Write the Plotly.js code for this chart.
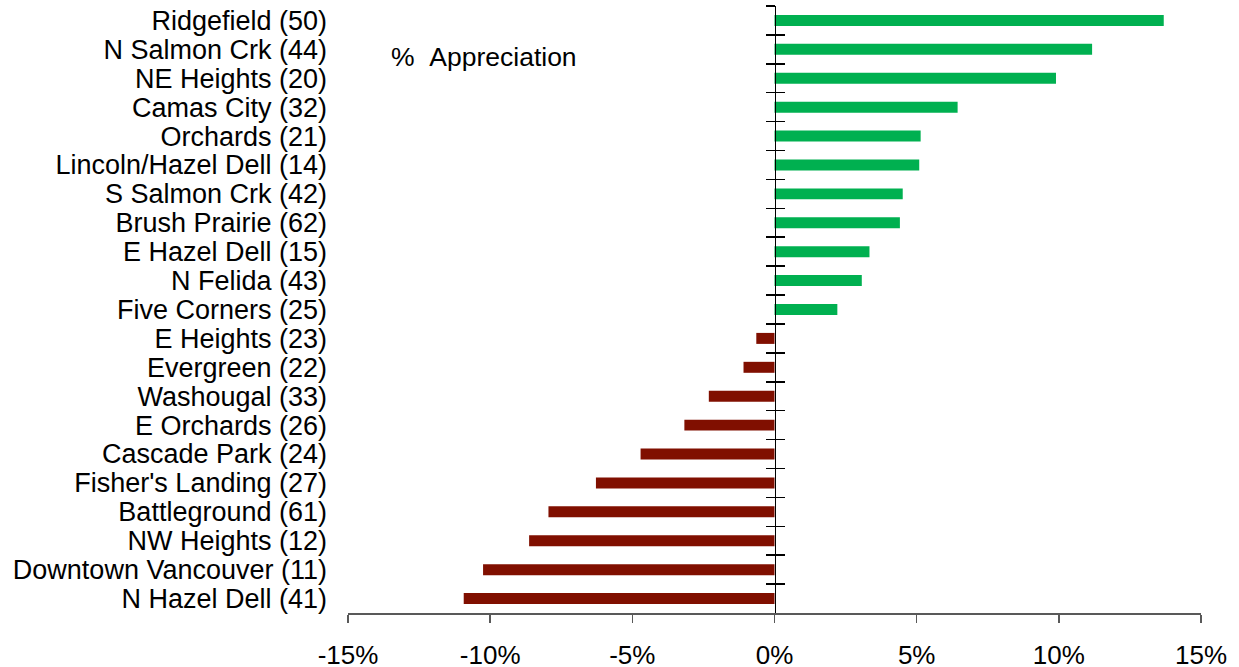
<!DOCTYPE html>
<html>
<head>
<meta charset="utf-8">
<script src="https://cdn.plot.ly/plotly-3.0.1.min.js"></script>
<style>html,body{margin:0;padding:0;background:#fff;}#chart{width:1239px;height:667px;}</style>
</head>
<body>
<div id="chart"></div>
<script>
// Categories, top to bottom
const categories = [
  "Ridgefield (50)", "N Salmon Crk (44)", "NE Heights (20)", "Camas City (32)",
  "Orchards (21)", "Lincoln/Hazel Dell (14)", "S Salmon Crk (42)", "Brush Prairie (62)",
  "E Hazel Dell (15)", "N Felida (43)", "Five Corners (25)", "E Heights (23)",
  "Evergreen (22)", "Washougal (33)", "E Orchards (26)", "Cascade Park (24)",
  "Fisher's Landing (27)", "Battleground (61)", "NW Heights (12)",
  "Downtown Vancouver (11)", "N Hazel Dell (41)"
];
// % appreciation values
const appreciation = [
  13.69, 11.17, 9.90, 6.44, 5.14, 5.09, 4.51, 4.41, 3.34, 3.07, 2.21,
  -0.64, -1.09, -2.31, -3.17, -4.71, -6.28, -7.95, -8.63, -10.25, -10.93
];
const xTickValues = [-15, -10, -5, 0, 5, 10, 15];
const xTickLabels = ["-15%", "-10%", "-5%", "0%", "5%", "10%", "15%"];

const positiveColor = "#00B050";
const negativeColor = "#800F00";
const barColors = appreciation.map(v => v >= 0 ? positiveColor : negativeColor);

const font = "Liberation Sans, Arial, sans-serif";
const catRange = [categories.length - 0.5, -0.5];

const traces = [
  {
    type: "bar", orientation: "h",
    x: appreciation, y: categories,
    marker: {color: barColors},
    hoverinfo: "x+y", showlegend: false
  },
  {
    type: "scatter", mode: "markers",
    x: appreciation, y: categories, yaxis: "y2",
    marker: {opacity: 0}, hoverinfo: "skip", showlegend: false
  },
  {
    type: "scatter", mode: "markers",
    x: appreciation, y: categories, yaxis: "y3",
    marker: {opacity: 0}, hoverinfo: "skip", showlegend: false
  }
];

const commonCrossAxis = {
  type: "category",
  overlaying: "y",
  anchor: "free",
  position: 0.5,
  range: catRange,
  autorange: false,
  tickmode: "linear", tick0: 0, dtick: 1,
  tickson: "boundaries",
  ticklen: 9,
  tickwidth: 1.5,
  tickcolor: "#000",
  showticklabels: false,
  showgrid: false,
  zeroline: false
};

const layout = {
  width: 1239, height: 667,
  margin: {l: 348, r: 38, t: 6, b: 54, pad: 0},
  paper_bgcolor: "#fff", plot_bgcolor: "#fff",
  bargap: 0.62,
  font: {family: font, size: 27, color: "#000"},
  xaxis: {
    range: [-15, 15],
    tickmode: "array",
    tickvals: xTickValues,
    ticktext: xTickLabels,
    ticks: "outside", ticklen: 8, tickwidth: 1.5, tickcolor: "#595959",
    showline: true, linecolor: "#595959", linewidth: 1.8,
    showgrid: false, zeroline: false,
    ticklabelstandoff: 10,
    tickfont: {family: font, size: 26, color: "#000"}
  },
  yaxis: {
    type: "category",
    range: catRange,
    autorange: false,
    tickmode: "linear", tick0: 0, dtick: 1,
    showline: false, showgrid: false, zeroline: false,
    ticks: "", ticklabelstandoff: 20,
    tickfont: {family: font, size: 27, color: "#000"}
  },
  yaxis2: Object.assign({}, commonCrossAxis, {
    ticks: "outside", showline: true, linecolor: "#000", linewidth: 1.8
  }),
  yaxis3: Object.assign({}, commonCrossAxis, {
    ticks: "inside", showline: false
  }),
  annotations: [{
    text: "%&nbsp;&nbsp;Appreciation",
    xref: "paper", yref: "paper",
    x: 0.048, y: 0.916, xanchor: "left", yanchor: "middle",
    showarrow: false,
    font: {family: font, size: 26.5, color: "#000"}
  }]
};

Plotly.newPlot("chart", traces, layout, {displayModeBar: false, staticPlot: true});
</script>
</body>
</html>
